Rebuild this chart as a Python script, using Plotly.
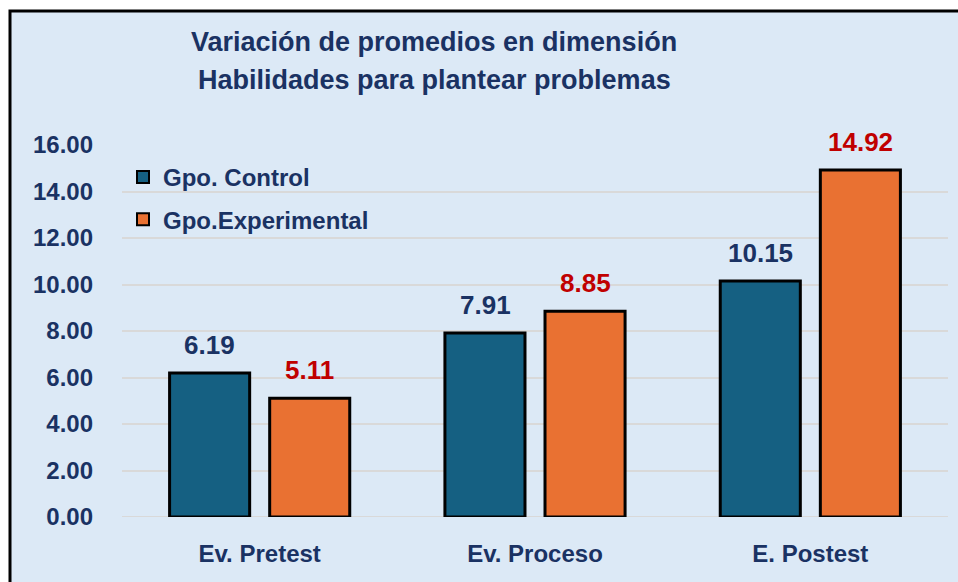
import plotly.graph_objects as go

categories = ["Ev. Pretest", "Ev. Proceso", "E. Postest"]
control = [6.19, 7.91, 10.15]
experimental = [5.11, 8.85, 14.92]
series_names = ["Gpo. Control", "Gpo.Experimental"]
title_lines = ["Variación de promedios en dimensión", "Habilidades para plantear problemas"]
y_ticks = [0, 2, 4, 6, 8, 10, 12, 14, 16]

W, H = 958, 582
L, R, T, B = 122, 10, 145, 65
pw, ph = W - L - R, H - T - B

def px(x):
    return (x - L) / pw

def py(y):
    return (H - B - y) / ph

BG = "#DCE9F6"
NAVY = "#1A3263"
RED = "#C00000"
BLUE = "#156082"
ORANGE = "#E97132"
SANS = "Liberation Sans, Arial, sans-serif"

fig = go.Figure()
fig.add_trace(go.Bar(x=categories, y=control, name=series_names[0], legendgroup="a",
                     marker=dict(color=BLUE, line=dict(color="black", width=3))))
fig.add_trace(go.Bar(x=categories, y=experimental, name=series_names[1], legendgroup="b",
                     marker=dict(color=ORANGE, line=dict(color="black", width=3))))

annotations = []
for i, c in enumerate(categories):
    annotations.append(dict(x=c, y=control[i], xref="x", yref="y", xshift=-50, yshift=11,
                            yanchor="bottom", showarrow=False, text=f"{control[i]:.2f}",
                            font=dict(family=SANS, size=26, color=NAVY, weight="bold")))
    annotations.append(dict(x=c, y=experimental[i], xref="x", yref="y", xshift=50, yshift=11,
                            yanchor="bottom", showarrow=False, text=f"{experimental[i]:.2f}",
                            font=dict(family=SANS, size=26, color=RED, weight="bold")))

for k, line in enumerate(title_lines):
    annotations.append(dict(x=px(434), y=py(42 + 38 * k), xref="paper", yref="paper",
                            xanchor="center", yanchor="middle", showarrow=False, text=line,
                            font=dict(family=SANS, size=27, color=NAVY, weight="bold")))

shapes = [dict(type="rect", xref="paper", yref="paper", layer="below",
               x0=px(10), x1=px(990), y0=py(620), y1=py(11),
               fillcolor=BG, line=dict(color="black", width=3))]

fig.update_layout(
    width=W, height=H,
    margin=dict(l=L, r=R, t=T, b=B, autoexpand=False),
    paper_bgcolor="white", plot_bgcolor="rgba(0,0,0,0)",
    barmode="group", bargap=0.273, bargroupgap=0.2,
    showlegend=True,
    legend=dict(x=px(123), y=py(155), xanchor="left", yanchor="top",
                bgcolor="rgba(0,0,0,0)", font=dict(family=SANS, size=24, color=NAVY, weight="bold"),
                itemsizing="constant", tracegroupgap=8),
    annotations=annotations, shapes=shapes,
    xaxis=dict(range=[-0.5, 2.5], showgrid=False, showline=False, ticks="",
               tickfont=dict(family=SANS, size=24, color=NAVY, weight="bold"),
               ticklabelstandoff=20),
    yaxis=dict(range=[0, 16], tickvals=y_ticks, ticktext=[f"{v:.2f}" for v in y_ticks],
               showgrid=True, gridcolor="#D9D9D9", gridwidth=2, zeroline=False,
               showline=False, ticks="", ticklabelstandoff=28,
               tickfont=dict(family=SANS, size=24, color=NAVY, weight="bold")),
    font=dict(family=SANS),
)
fig.add_hline(y=0, line=dict(color="#D9D9D9", width=2), layer="below")

fig.write_html("out.html", config={"displayModeBar": False},
               post_script="document.body.style.margin='0';document.body.style.overflow='hidden';")
